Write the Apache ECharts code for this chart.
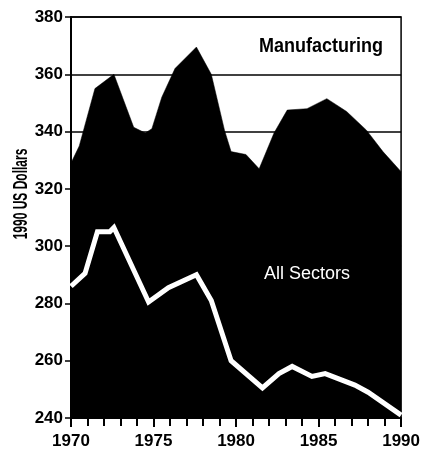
<!DOCTYPE html>
<html>
<head>
<meta charset="utf-8">
<script src="https://cdn.jsdelivr.net/npm/echarts@6/dist/echarts.min.js"></script>
<style>
  html, body { margin: 0; padding: 0; background: #fff; }
  #chartDiv { width: 423px; height: 454px; }
</style>
</head>
<body>
<div id="chartDiv"></div>
<script type="text/javascript">
  // manufacturing (black area) - x positions are fractional years
  var mfgYears = [1970, 1970.5, 1971.45, 1972.6, 1973.8, 1974.5, 1974.9, 1975.5, 1976.3, 1977.6, 1978.5, 1979.3, 1979.7, 1980.6, 1981.4, 1982.3, 1983.1, 1984.3, 1985.5, 1986.7, 1987.9, 1988.9, 1990];
  var mfgValues = [329, 335, 355, 360, 341.5, 339.5, 341, 352, 362, 369.5, 360, 340.5, 333, 332, 327, 339.5, 347.5, 348, 351.5, 347, 340.5, 333, 326];

  // all sectors (white line)
  var allYears = [1970, 1970.85, 1971.6, 1972.35, 1972.6, 1974.7, 1975.9, 1977.6, 1978.5, 1979.7, 1981.6, 1982.6, 1983.4, 1984.6, 1985.4, 1987.2, 1988, 1990];
  var allValues = [286, 290.5, 305, 305, 306.5, 280.5, 285.5, 290, 281, 260, 250.5, 255.5, 258, 254.5, 255.5, 251.5, 249, 241];

  var yTicks = [240, 260, 280, 300, 320, 340, 360, 380];

  function toPairs(xs, ys) {
    var out = [];
    for (var i = 0; i < xs.length; i++) {
      out.push([xs[i], ys[i]]);
    }
    return out;
  }

  var labelFont = '"Liberation Sans", Arial, sans-serif';

  var myChart = echarts.init(document.getElementById('chartDiv'), null, { renderer: 'canvas' });

  var option = {
    animation: false,
    backgroundColor: '#fff',
    grid: {
      left: 71,
      right: 18,
      top: 17,
      bottom: 36,
      show: true,
      borderColor: '#000',
      borderWidth: 1.5
    },
    xAxis: {
      type: 'value',
      min: 1970,
      max: 1990,
      interval: 5,
      axisLine: { show: true, lineStyle: { color: '#000', width: 2 } },
      axisTick: { show: true, length: 9, lineStyle: { color: '#000', width: 2 } },
      minorTick: { show: true, splitNumber: 5, length: 8, lineStyle: { color: '#000', width: 2 } },
      splitLine: { show: false },
      axisLabel: {
        margin: 15,
        color: '#000',
        fontFamily: labelFont,
        fontWeight: 'bold',
        fontSize: 17,
        formatter: function (v) { return v + ''; }
      }
    },
    yAxis: {
      type: 'value',
      min: yTicks[0],
      max: yTicks[yTicks.length - 1],
      interval: 20,
      axisLine: { show: true, lineStyle: { color: '#000', width: 2 } },
      axisTick: { show: true, length: 6, lineStyle: { color: '#000', width: 1.5 } },
      splitLine: { show: true, lineStyle: { color: '#000', width: 1.5 } },
      axisLabel: {
        margin: 8,
        color: '#000',
        fontFamily: labelFont,
        fontWeight: 'bold',
        fontSize: 17
      }
    },
    graphic: {
      elements: [
        {
          type: 'text',
          x: 21,
          y: 194,
          rotation: Math.PI / 2,
          scaleY: 1.7,
          style: {
            text: '1990 US Dollars',
            font: 'bold 12px ' + labelFont,
            fill: '#000',
            align: 'center',
            verticalAlign: 'middle'
          }
        },
        {
          type: 'text',
          x: 321,
          y: 46,
          z: 100,
          scaleY: 1.15,
          style: {
            text: 'Manufacturing',
            font: 'bold 18px ' + labelFont,
            fill: '#000',
            align: 'center',
            verticalAlign: 'middle'
          }
        },
        {
          type: 'text',
          x: 307,
          y: 274,
          z: 100,
          style: {
            text: 'All Sectors',
            font: '18px ' + labelFont,
            fill: '#fff',
            align: 'center',
            verticalAlign: 'middle'
          }
        }
      ]
    },
    series: [
      {
        name: 'Manufacturing',
        type: 'line',
        data: toPairs(mfgYears, mfgValues),
        symbol: 'none',
        lineStyle: { width: 0.5, color: '#000' },
        areaStyle: { color: '#000', opacity: 1, origin: 'start' },
        z: 2
      },
      {
        name: 'All Sectors',
        type: 'line',
        data: toPairs(allYears, allValues),
        symbol: 'none',
        lineStyle: { width: 5, color: '#fff', join: 'miter' },
        z: 3
      }
    ]
  };

  myChart.setOption(option);
</script>
</body>
</html>
